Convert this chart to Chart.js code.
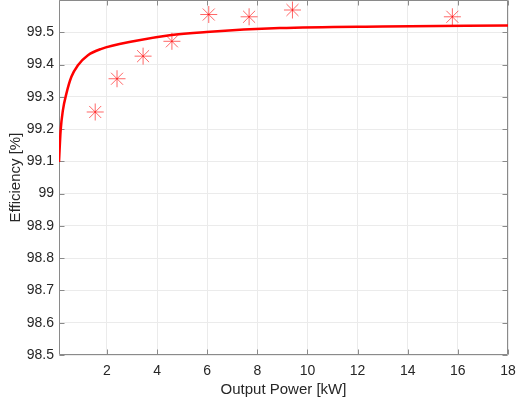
<!DOCTYPE html>
<html><head><meta charset="utf-8">
<script src="https://cdn.jsdelivr.net/npm/chart.js@4/dist/chart.umd.min.js"></script>
<style>html,body{margin:0;padding:0;background:#fff}#wrap{width:516px;height:402px;position:relative}</style>
</head><body><div id="wrap"><canvas id="c"></canvas></div>
<script>
const curvePower = [0.085, 0.15, 0.24, 0.38, 0.58, 0.84, 1.24, 1.75, 3.11, 4.5, 5.97, 8.89, 13.0, 18.0];
const curveEff   = [99.098, 99.195, 99.258, 99.310, 99.362, 99.398, 99.429, 99.448, 99.473, 99.491, 99.501, 99.513, 99.518, 99.521];
const measPower  = [1.53, 2.40, 3.44, 4.59, 6.06, 7.67, 9.40, 15.78];
const measEff    = [99.253, 99.356, 99.426, 99.472, 99.555, 99.548, 99.569, 99.548];
const xTicks = [2, 4, 6, 8, 10, 12, 14, 16, 18];
const yTicks = [98.5, 98.6, 98.7, 98.8, 98.9, 99, 99.1, 99.2, 99.3, 99.4, 99.5, 99.6];
const xRange = [0.085, 18];
const yRange = [98.5, 99.6];
const xTitle = 'Output Power [kW]';
const yTitle = 'Efficiency [%]';

const FONT = "'Liberation Sans', Arial, Helvetica, sans-serif";
const TXT = '#262626';

const boxPlugin = {
  id: 'boxTicks',
  beforeDatasetsDraw(chart) {
    const {ctx, chartArea: a, scales: {x, y}} = chart;
    ctx.save();
    ctx.strokeStyle = '#8a8a8a';
    ctx.lineWidth = 1;
    ctx.beginPath();
    const L = Math.round(a.left) + 0.5, R = Math.round(a.right) - 0.5;
    const T = Math.round(a.top) + 0.5, B = Math.round(a.bottom) - 0.5;
    ctx.rect(L, T, R - L, B - T);
    const tl = 5;
    xTicks.forEach(v => {
      const px = Math.round(x.getPixelForValue(v)) + 0.5;
      ctx.moveTo(px, B); ctx.lineTo(px, B - tl);
      ctx.moveTo(px, T); ctx.lineTo(px, T + tl);
    });
    yTicks.forEach(v => {
      const py = Math.round(y.getPixelForValue(v)) + 0.5;
      ctx.moveTo(L, py); ctx.lineTo(L + tl, py);
      ctx.moveTo(R, py); ctx.lineTo(R - tl, py);
    });
    ctx.stroke();
    ctx.restore();
  }
};

new Chart(document.getElementById('c'), {
  type: 'scatter',
  data: {
    datasets: [
      {
        data: curvePower.map((p, i) => ({x: p, y: curveEff[i]})),
        showLine: true, borderColor: '#ff0000', borderWidth: 2.5,
        pointRadius: 0, cubicInterpolationMode: 'monotone', fill: false, order: 1
      },
      {
        data: measPower.map((p, i) => ({x: p, y: measEff[i]})),
        showLine: false, pointStyle: 'star', pointRadius: 8.5,
        borderColor: 'rgba(255,0,0,0.6)', backgroundColor: 'rgba(255,0,0,0.6)',
        pointBorderWidth: 1, order: 0
      }
    ]
  },
  options: {
    responsive: true, maintainAspectRatio: false, animation: false,
    layout: {autoPadding: false, padding: {left: 0, right: 8, top: 0, bottom: 0}},
    plugins: {legend: {display: false}, tooltip: {enabled: false}},
    scales: {
      x: {
        type: 'linear', min: xRange[0], max: xRange[1],
        afterBuildTicks: s => { s.ticks = xTicks.map(v => ({value: v})); },
        afterFit: s => { s.height = 47; s.paddingLeft = 0; s.paddingRight = 0; },
        grid: {color: '#ebebeb', drawTicks: false},
        border: {display: false},
        ticks: {font: {family: FONT, size: 14}, color: TXT, padding: 8, maxRotation: 0,
                callback: v => String(v)},
        title: {display: true, text: xTitle, font: {family: FONT, size: 15}, color: TXT,
                padding: {top: 0, bottom: 3}}
      },
      y: {
        type: 'linear', min: yRange[0], max: yRange[1],
        afterBuildTicks: s => { s.ticks = yTicks.map(v => ({value: v})); },
        afterFit: s => { s.width = 59; s.paddingTop = 0; s.paddingBottom = 0; },
        grid: {color: '#ebebeb', drawTicks: false},
        border: {display: false},
        ticks: {font: {family: FONT, size: 14}, color: TXT, padding: 5,
                callback: v => (v >= yRange[1] - 1e-9 ? '' : String(Math.round(v * 10) / 10))},
        title: {display: true, text: yTitle, font: {family: FONT, size: 15}, color: TXT,
                padding: {top: 7, bottom: 0}}
      }
    }
  },
  plugins: [boxPlugin]
});
</script>
</body></html>
